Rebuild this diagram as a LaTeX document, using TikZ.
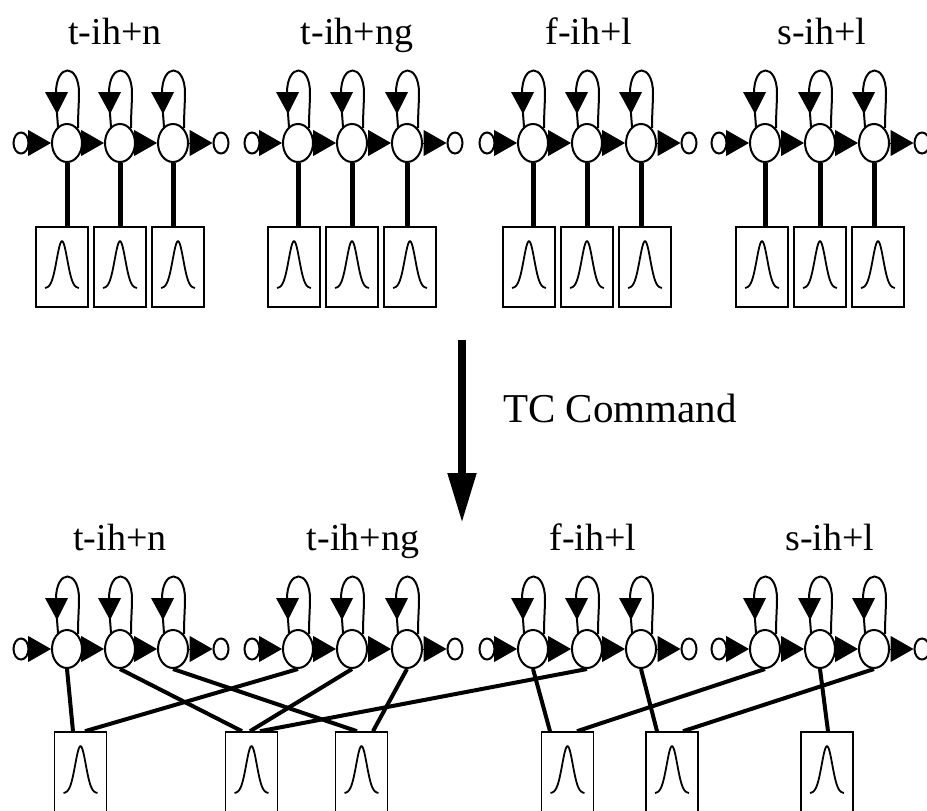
\documentclass[tikz,border=0pt]{standalone}
\usepackage{fontspec}
\setmainfont{Liberation Serif}
\usetikzlibrary{shapes.geometric,arrows.meta,calc}
\begin{document}
\begin{tikzpicture}[x=1pt,y=-1pt,
  st/.style={draw,ellipse,line width=2pt,minimum width=30pt,minimum height=38pt,inner sep=0pt,fill=white},
  smallst/.style={draw,ellipse,line width=2pt,minimum width=15pt,minimum height=21pt,inner sep=0pt},
  trans/.style={line width=1pt,-{Triangle[length=23pt,width=26pt]}},
  loopline/.style={line width=2pt},
  pdfbox/.style={draw,line width=1.6pt,minimum width=52pt,minimum height=80pt,inner sep=0pt},
  gauss/.style={line width=1.8pt},
  tie/.style={line width=5pt},
  tieb/.style={line width=4pt},
  lbl/.style={font=\fontsize{38}{38}\selectfont,anchor=base,inner sep=0pt},
  bigarrow/.style={line width=8pt,-{Triangle[length=50pt,width=27pt]}}]
\useasboundingbox[fill=white] (0,0) rectangle (927,811);
% labels
\node[lbl] (l1) at (115,45) {t-ih+n};
\node[lbl] (l2) at (357,45) {t-ih+ng};
\node[lbl] (l3) at (589,45) {f-ih+l};
\node[lbl] (l4) at (822,45) {s-ih+l};
\node[lbl] (m1) at (120,550) {t-ih+n};
\node[lbl] (m2) at (363,550) {t-ih+ng};
\node[lbl] (m3) at (593,550) {f-ih+l};
\node[lbl] (m4) at (830,550) {s-ih+l};
% HMM rows
\foreach \g/\xa/\xb/\xc in {1/67/120/173, 2/298/352/407, 3/533/587/641, 4/765/820/874}{
  \foreach \r/\yy in {t/143, b/649}{
    \node[smallst] (\r\g in) at (\xa-46,\yy) {};
    \node[st] (\r\g s1) at (\xa,\yy) {};
    \node[st] (\r\g s2) at (\xb,\yy) {};
    \node[st] (\r\g s3) at (\xc,\yy) {};
    \node[smallst] (\r\g out) at (\xc+48,\yy) {};
    \draw[trans] (\r\g in) -- (\r\g s1);
    \draw[trans] (\r\g s1) -- (\r\g s2);
    \draw[trans] (\r\g s2) -- (\r\g s3);
    \draw[trans] (\r\g s3) -- (\r\g out);
    \foreach \s in {1,2,3}{
      \draw[loopline,shift={(\r\g s\s.center)}] (-9,-16) .. controls (-10,-30) and (-11,-40) .. (-11,-50) .. controls (-11,-80) and (12,-80) .. (12,-50) .. controls (12,-40) and (11,-30) .. (11,-15);
      \fill[shift={(\r\g s\s.center)}] (-22,-51) -- (1,-51) -- (-10,-29) -- cycle;
    }
  }
  % top output distributions
  \node[pdfbox] (t\g b1) at (\xb-58,267) {};
  \node[pdfbox] (t\g b2) at (\xb,267) {};
  \node[pdfbox] (t\g b3) at (\xb+58,267) {};
  \foreach \k in {1,2,3}{
    \draw[tie] (t\g s\k.south) -- (t\g s\k.south |- t\g b\k.north);
    \draw[gauss,shift={(t\g b\k.north)}] plot[domain=-17:17,samples=61,smooth] ({\x},{62-47*exp(-((\x/5.3)^2)/2)});
  }
}
% tied distributions
\foreach \p/\px in {1/80.5, 2/251.5, 3/361.5, 4/567.5, 5/672, 6/827}{
  \node[pdfbox] (P\p) at (\px,772) {};
  \draw[gauss,shift={(P\p.north)}] plot[domain=-17:17,samples=61,smooth] ({\x},{62-47*exp(-((\x/5.3)^2)/2)});
}
\draw[tieb] (b1s1.south) -- ([xshift=-7.5pt]P1.north);
\draw[tieb] (b2s1.south) -- ([xshift=4.5pt]P1.north);
\draw[tieb] (b1s2.south) -- ([xshift=-9.5pt]P2.north);
\draw[tieb] (b2s2.south) -- ([xshift=-1.5pt]P2.north);
\draw[tieb] (b3s2.south) -- ([xshift=8.5pt]P2.north);
\draw[tieb] (b1s3.south) -- ([xshift=-4.5pt]P3.north);
\draw[tieb] (b2s3.south) -- ([xshift=11.5pt]P3.north);
\draw[tieb] (b3s1.south) -- ([xshift=-17.5pt]P4.north);
\draw[tieb] (b4s1.south) -- ([xshift=9.5pt]P4.north);
\draw[tieb] (b3s3.south) -- ([xshift=-15pt]P5.north);
\draw[tieb] (b4s3.south) -- ([xshift=11pt]P5.north);
\draw[tieb] (b4s2.south) -- ([xshift=1pt]P6.north);
% TC command arrow
\coordinate (tcA) at (462,340);
\coordinate (tcB) at (462,523);
\draw[bigarrow] (tcA) -- (tcB);
\node[font=\fontsize{41}{41}\selectfont,anchor=base west,inner sep=0pt] (tc) at (503,422) {TC Command};
\end{tikzpicture}
\end{document}
